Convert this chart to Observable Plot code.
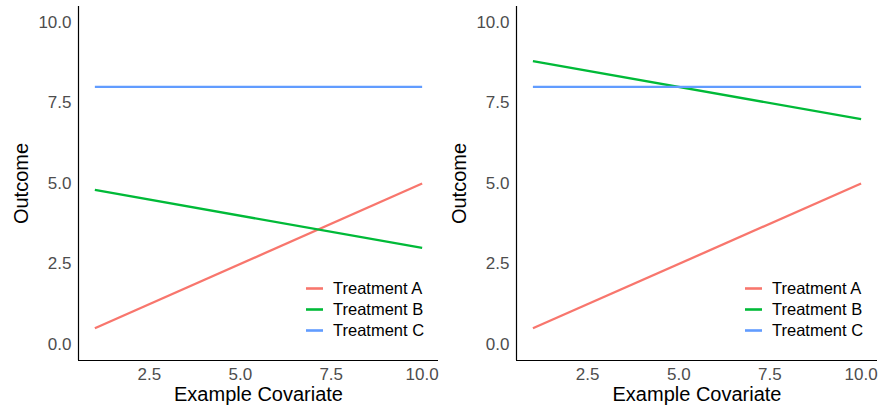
<!DOCTYPE html>
<html>
<head>
<meta charset="utf-8">
<script src="https://cdn.jsdelivr.net/npm/d3@7"></script>
<script src="https://cdn.jsdelivr.net/npm/@observablehq/plot@0.6"></script>
<style>
  html, body { margin: 0; padding: 0; background: #fff; }
  body { width: 880px; height: 406px; overflow: hidden; font-family: "Liberation Sans", Arial, sans-serif; }
  #row { display: flex; flex-direction: row; width: 880px; height: 406px; }
  .panel { position: relative; width: 440px; height: 406px; }
  .lg { position: absolute; color: #000; line-height: 21px; }
  .lg .item { display: flex; align-items: center; white-space: nowrap; height: 21px; }
  .lg .item span { font-size: 16.5px !important; font-family: "Liberation Sans", Arial, sans-serif; }
  .lg svg { margin-right: 10px; flex: none; }
</style>
</head>
<body>
<div id="row"></div>
<script>
// ---- data ----
const treatments = ["Treatment A", "Treatment B", "Treatment C"];
const colors = ["#F8766D", "#00BA38", "#619CFF"];
const covariate = [1, 10];
const leftA = [0.5, 5.0];
const leftB = [4.8, 3.0];
const leftC = [8.0, 8.0];
const rightA = [0.5, 5.0];
const rightB = [8.8, 7.0];
const rightC = [8.0, 8.0];
const xTicks = [2.5, 5.0, 7.5, 10.0];
const yTicks = [0.0, 2.5, 5.0, 7.5, 10.0];
const xDomain = [0.55, 10.45];
const yDomain = [-0.5, 10.5];

function toRows(series) {
  const rows = [];
  series.forEach((vals, i) => {
    vals.forEach((v, j) => rows.push({treatment: treatments[i], x: covariate[j], y: v}));
  });
  return rows;
}

function makePanel(series, opts) {
  const data = toRows(series);
  const plot = Plot.plot({
    width: 440,
    height: 406,
    marginTop: 6,
    marginBottom: 46,
    marginLeft: opts.marginLeft,
    marginRight: opts.marginRight,
    style: {fontFamily: '"Liberation Sans", Arial, sans-serif', background: "transparent"},
    x: {domain: xDomain},
    y: {domain: yDomain},
    color: {domain: treatments, range: colors},
    marks: [
      Plot.axisX({ticks: xTicks, tickFormat: d3.format(".1f"), tickSize: 0, tickPadding: 7,
        fontSize: 17, color: "#4D4D4D", label: null}),
      Plot.axisY({ticks: yTicks, tickFormat: d3.format(".1f"), tickSize: 0, tickPadding: 7,
        fontSize: 17, color: "#4D4D4D", label: null}),
      Plot.axisX({ticks: [], label: "Example Covariate", labelAnchor: "center", labelArrow: "none",
        labelOffset: 40.5, fontSize: 20, color: "#000", tickSize: 0}),
      Plot.axisY({ticks: [], label: "Outcome", labelAnchor: "center", labelArrow: "none",
        labelOffset: 65, fontSize: 20, color: "#000", tickSize: 0}),
      Plot.ruleX([xDomain[0]], {stroke: "#000", strokeWidth: 1.2}),
      Plot.ruleY([yDomain[0]], {stroke: "#000", strokeWidth: 1.2}),
      Plot.line(data, {x: "x", y: "y", z: "treatment", stroke: "treatment", strokeWidth: 2.3, strokeLinecap: "butt"})
    ]
  });
  const div = document.createElement("div");
  div.className = "panel";
  div.appendChild(plot);
  const leg = document.createElement("div");
  leg.className = "lg";
  leg.style.left = opts.legendLeft + "px";
  leg.style.top = opts.legendTop + "px";
  treatments.forEach((t, i) => {
    const item = document.createElement("div");
    item.className = "item";
    item.innerHTML = `<svg width="17" height="21"><line x1="0" x2="17" y1="10.5" y2="10.5" stroke="${colors[i]}" stroke-width="2.6"/></svg><span style="font-size:16.5px">${t}</span>`;
    leg.appendChild(item);
  });
  div.appendChild(leg);
  return div;
}

const row = document.getElementById("row");
row.appendChild(makePanel([leftA, leftB, leftC], {marginLeft: 78, marginRight: 2, legendLeft: 306, legendTop: 278}));
row.appendChild(makePanel([rightA, rightB, rightC], {marginLeft: 76, marginRight: 3, legendLeft: 305, legendTop: 278}));
</script>
</body>
</html>
